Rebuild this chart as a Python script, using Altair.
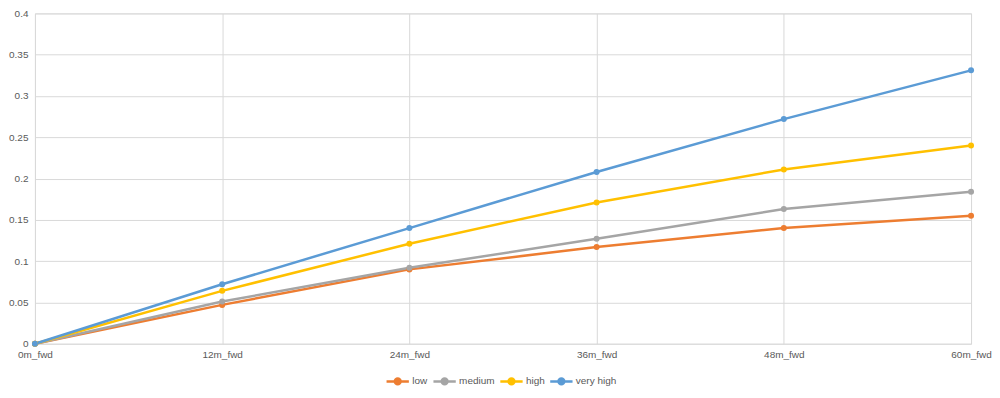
import altair as alt
import pandas as pd

periods = ["0m_fwd", "12m_fwd", "24m_fwd", "36m_fwd", "48m_fwd", "60m_fwd"]
low = [0.0, 0.047, 0.090, 0.117, 0.140, 0.155]
medium = [0.0, 0.051, 0.092, 0.127, 0.163, 0.184]
high = [0.0, 0.064, 0.121, 0.171, 0.211, 0.240]
very_high = [0.0, 0.072, 0.140, 0.208, 0.272, 0.331]

series_names = ["low", "medium", "high", "very high"]
series_values = [low, medium, high, very_high]
colors = ["#ED7D31", "#A5A5A5", "#FFC000", "#5B9BD5"]
y_ticks = [0, 0.05, 0.1, 0.15, 0.2, 0.25, 0.3, 0.35, 0.4]

rows = []
for name, vals in zip(series_names, series_values):
    for p, v in zip(periods, vals):
        rows.append({"period": p, "value": v, "series": name})
df = pd.DataFrame(rows)

font = "Liberation Sans"
legend_symbol = "M-1,0L1,0M-0.26,0A0.26,0.26 0 1,0 0.26,0A0.26,0.26 0 1,0 -0.26,0Z"

chart = alt.Chart(df).mark_line(
    strokeWidth=2.5,
    point=alt.OverlayMarkDef(filled=True, size=36, opacity=1),
).encode(
    x=alt.X("period:N", sort=periods, scale=alt.Scale(type="point", padding=0),
            axis=alt.Axis(title=None, labelAngle=0, domain=False, ticks=False, grid=True,
                          gridColor="#d9d9d9", labelColor="#595959", labelFontSize=10,
                          labelFont=font, labelPadding=6)),
    y=alt.Y("value:Q", scale=alt.Scale(domain=[0, 0.4], nice=False),
            axis=alt.Axis(title=None, values=y_ticks, format="~g", domain=False, ticks=False,
                          grid=True, gridColor="#d9d9d9", labelColor="#595959",
                          labelFontSize=10, labelFont=font, labelPadding=7)),
    color=alt.Color("series:N", sort=series_names,
                    scale=alt.Scale(domain=series_names, range=colors),
                    legend=alt.Legend(title=None, orient="none", direction="horizontal",
                                      legendX=351, legendY=356,
                                      symbolType=legend_symbol, symbolSize=500,
                                      symbolStrokeWidth=2.5, labelFontSize=10,
                                      labelColor="#595959", labelFont=font,
                                      columnPadding=0, labelOffset=2)),
    order=alt.Order("series_order:Q"),
).transform_calculate(
    series_order="indexof(['low','medium','high','very high'], datum.series)"
).properties(
    width=938, height=331,
    padding={"left": 27, "top": 5, "right": 21, "bottom": 46},
    autosize=alt.AutoSizeParams(type="none"),
).configure_view(stroke=None).configure(background="white")

chart.save("out.html", embed_options={"renderer": "svg", "actions": False})
